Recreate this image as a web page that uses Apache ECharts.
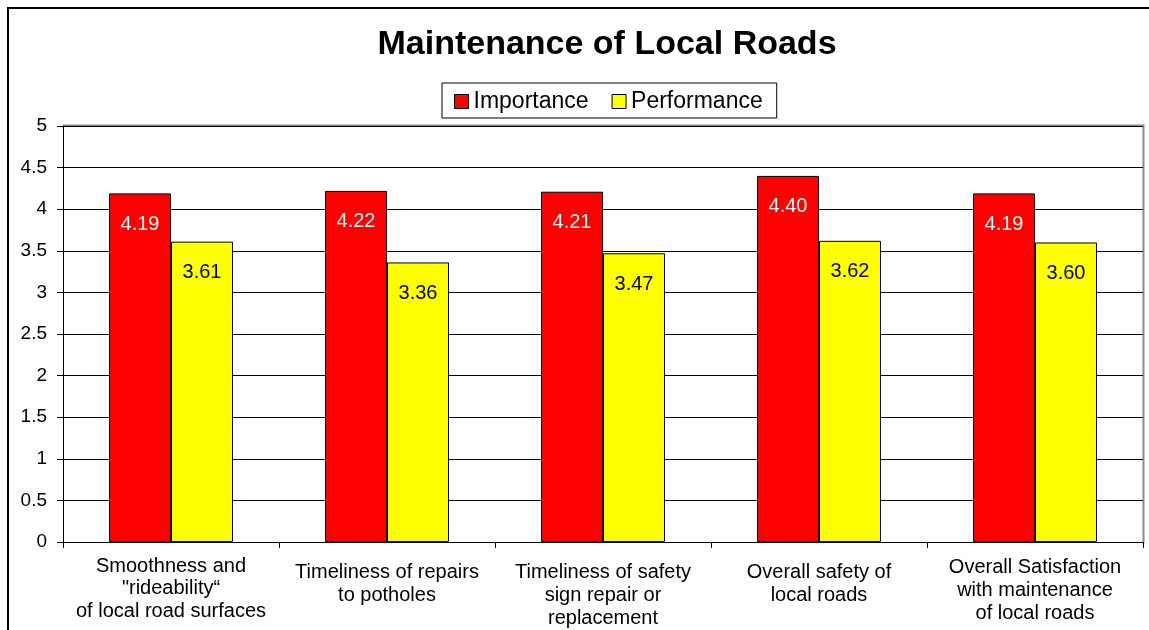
<!DOCTYPE html>
<html>
<head>
<meta charset="utf-8">
<script src="https://cdn.jsdelivr.net/npm/echarts@6/dist/echarts.min.js"></script>
<style>html,body{margin:0;padding:0;background:#fff}#c{width:1149px;height:630px}</style>
</head>
<body>
<div id="c"></div>
<script>
const categories = [
  'Smoothness and\n"rideability“\nof local road surfaces',
  'Timeliness of repairs\nto potholes',
  'Timeliness of safety\nsign repair or\nreplacement',
  'Overall safety of\nlocal roads',
  'Overall Satisfaction\nwith maintenance\nof local roads'
];
const importance = [4.19, 4.22, 4.21, 4.40, 4.19];
const performance = [3.61, 3.36, 3.47, 3.62, 3.60];
const yTicks = [0, 0.5, 1, 1.5, 2, 2.5, 3, 3.5, 4, 4.5, 5];

const font = 'Liberation Sans, Arial, sans-serif';
// per-category vertical offsets of the axis labels, as in the source
const labelStyles = [
  {lineHeight: 22.5, padding: [-6, 0, 6, 0]},
  {},
  {},
  {},
  {lineHeight: 23, padding: [-5, 0, 5, 0]}
];
const xData = categories.map((c, i) => ({value: c, textStyle: labelStyles[i]}));

const chart = echarts.init(document.getElementById('c'), null, {renderer: 'canvas'});
chart.setOption({
  animation: false,
  backgroundColor: '#fff',
  title: {
    text: 'Maintenance of Local Roads',
    left: 602, top: 23, textAlign: 'center',
    textStyle: {fontFamily: font, fontSize: 34, fontWeight: 'bold', color: '#000'}
  },
  graphic: [{
    type: 'rect', silent: true, z: -1,
    shape: {x: 8, y: 8, width: 1300, height: 800},
    style: {fill: 'none', stroke: '#000', lineWidth: 2}
  }, {
    type: 'polyline', silent: true, z: 0,
    shape: {points: [[63, 125.5], [1143.5, 125.5], [1143.5, 543]]},
    style: {fill: 'none', stroke: '#888', lineWidth: 2}
  }],
  legend: {
    left: 442, top: 83,
    padding: [7, 14, 5, 12],
    itemGap: 23,
    borderColor: '#000', borderWidth: 1,
    itemWidth: 14, itemHeight: 14,
    textStyle: {fontFamily: font, fontSize: 23, color: '#000'},
    data: [
      {name: 'Importance', icon: 'rect', itemStyle: {borderColor: '#000', borderWidth: 1}},
      {name: 'Performance', icon: 'rect', itemStyle: {borderColor: '#000', borderWidth: 1}}
    ]
  },
  grid: {left: 63, right: 6, top: 126, bottom: 87, containLabel: false},
  xAxis: {
    type: 'category', data: xData,
    axisLine: {lineStyle: {color: '#000', width: 1}},
    axisTick: {show: true, length: 6, lineStyle: {color: '#000'}},
    axisLabel: {interval: 0, fontFamily: font, fontSize: 20, color: '#000', lineHeight: 23, margin: 19}
  },
  yAxis: {
    type: 'value', min: 0, max: 5, interval: 0.5,
    axisLine: {show: true, lineStyle: {color: '#000', width: 1}},
    axisTick: {show: true, length: 6, lineStyle: {color: '#000'}},
    axisLabel: {fontFamily: font, fontSize: 19, color: '#000', margin: 16,
      formatter: v => yTicks.includes(v) ? String(v) : ''},
    splitLine: {show: true, lineStyle: {color: '#000', width: 1}}
  },
  series: [{
    name: 'Importance', type: 'bar', data: importance,
    barWidth: 62, barGap: '0%',
    itemStyle: {color: '#ff0000', borderColor: '#000', borderWidth: 1},
    label: {show: true, position: 'insideTop', distance: 21, formatter: p => p.value.toFixed(2),
      fontFamily: font, fontSize: 20, color: '#fff'}
  }, {
    name: 'Performance', type: 'bar', data: performance,
    barWidth: 62, barGap: '0%',
    itemStyle: {color: '#ffff00', borderColor: '#000', borderWidth: 1},
    label: {show: true, position: 'insideTop', distance: 21, formatter: p => p.value.toFixed(2),
      fontFamily: font, fontSize: 20, color: '#000'}
  }]
});
</script>
</body>
</html>
